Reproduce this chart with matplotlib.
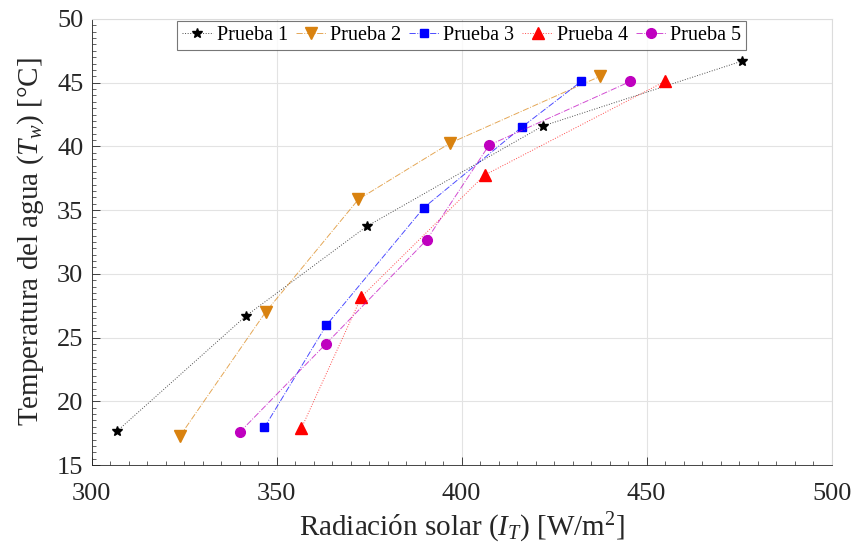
import matplotlib
matplotlib.use("Agg")
import matplotlib.pyplot as plt
from matplotlib.colors import to_rgba
from matplotlib.ticker import MultipleLocator

# valores
x1 = [306.9, 341.7, 374.3, 421.9, 475.8]
y1 = [17.67, 26.7, 33.72, 41.6, 46.7]
x2 = [323.8, 347.0, 372.1, 396.8, 437.4]
y2 = [17.25, 27.0, 35.85, 40.25, 45.5]
x3 = [346.7, 363.4, 389.8, 416.2, 432.3]
y3 = [17.96, 25.96, 35.2, 41.5, 45.1]
x4 = [356.7, 372.9, 406.2, 454.9]
y4 = [17.9, 28.2, 37.75, 45.1]
x5 = [340.0, 363.3, 390.5, 407.4, 445.6]
y5 = [17.57, 24.5, 32.65, 40.1, 45.1]
labels = ["Prueba 1", "Prueba 2", "Prueba 3", "Prueba 4", "Prueba 5"]

plt.rcParams['font.family'] = ['Liberation Serif', 'DejaVu Serif']
plt.rcParams['mathtext.fontset'] = 'custom'
plt.rcParams['mathtext.rm'] = 'Liberation Serif'
plt.rcParams['mathtext.it'] = 'Liberation Serif:italic'

fig = plt.figure(figsize=(8.53, 5.52), dpi=100)
ax = fig.add_axes([0.1075, 0.1576, 0.8675, 0.808])

series = [
    (x1, y1, 'k', '*', 7.5, ':'),
    (x2, y2, '#D9820F', 'v', 8, '-.'),
    (x3, y3, '#0000FF', 's', 5.5, '-.'),
    (x4, y4, '#FF0000', '^', 8, ':'),
    (x5, y5, '#BF00BF', 'o', 7, '-.'),
]
for (xs, ys, c, m, ms, ls), lab in zip(series, labels):
    ax.plot(xs, ys, linestyle=ls, color=to_rgba(c, 0.7), lw=0.7,
            marker=m, markersize=ms, markerfacecolor=c, markeredgecolor=c,
            label=lab)

ax.set_xlim(300, 500)
ax.set_ylim(15, 50)
ax.xaxis.set_major_locator(MultipleLocator(50))
ax.xaxis.set_minor_locator(MultipleLocator(5))
ax.yaxis.set_major_locator(MultipleLocator(5))
ax.yaxis.set_minor_locator(MultipleLocator(0.5))
ax.tick_params(which='both', direction='in', labelsize=19, colors='#262626',
               labelcolor='#262626')
ax.tick_params(which='major', length=6, width=0.6)
ax.tick_params(which='minor', length=3, width=0.5)
ax.tick_params(axis='x', which='major', pad=13)
ax.tick_params(axis='y', which='major', pad=6)
ax.grid(True, which='major', color='#e3e3e3', lw=0.8)
ax.set_axisbelow(True)
for s in ['left', 'bottom']:
    ax.spines[s].set_color('#262626')
    ax.spines[s].set_linewidth(0.6)
for s in ['top', 'right']:
    ax.spines[s].set_color('#dcdcdc')
    ax.spines[s].set_linewidth(0.8)

ax.set_xlabel(r"Radiación solar $(I_T)$ [W/m$^2$]", fontsize=21, color='#262626',
              labelpad=4)
ax.set_ylabel(r"Temperatura del agua $(T_w)$ [°C]", fontsize=21, color='#262626',
              labelpad=8)

leg = ax.legend(loc='upper center', ncol=5, fontsize=14.5, frameon=True,
                fancybox=False, edgecolor='#555555', borderaxespad=0.1,
                handlelength=1.5, handletextpad=0.2, columnspacing=0.4,
                borderpad=0.25)
leg.get_frame().set_linewidth(0.8)

fig.savefig("out.png", dpi=100)
